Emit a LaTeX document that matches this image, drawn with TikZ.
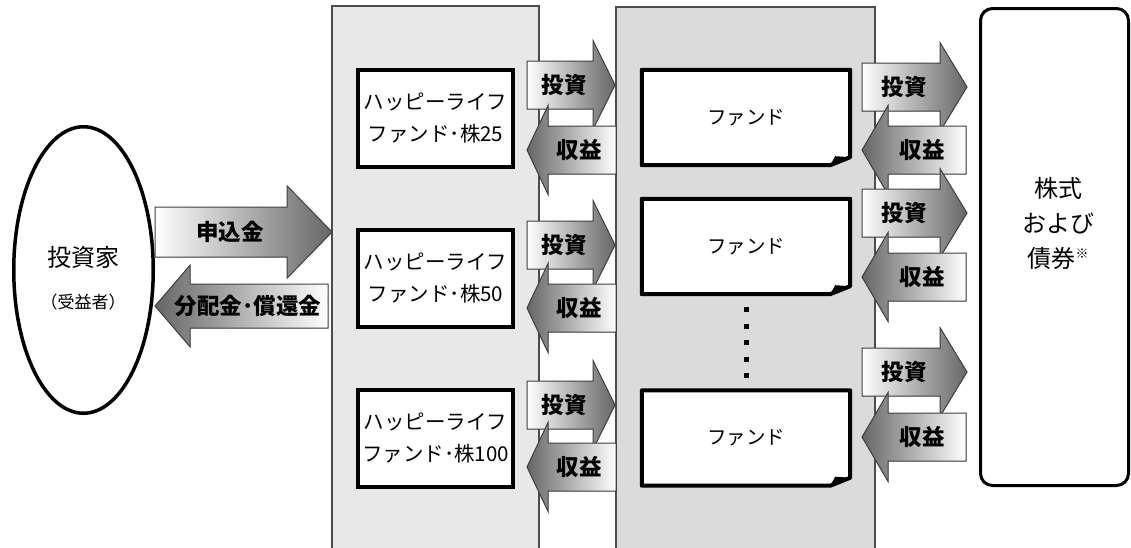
\documentclass[tikz,border=0pt]{standalone}
\usepackage{fontspec}
\setmainfont{Noto Sans CJK JP}
\usetikzlibrary{shapes.geometric}

\newcommand\flowarrow[9]{%
  \filldraw[flow,#2] (#3,#6-#7) -- (#4,#6-#7) -- (#4,{#6-1.85*#7}) -- (#5,#6)
    -- (#4,{#6+1.85*#7}) -- (#4,#6+#7) -- (#3,#6+#7) -- cycle;
  \node[flowlbl] (#1) at (#8,#6) {#9};}
\newcommand\fundbox[3]{%
  \node[fundframe] (#1) at (#2,#3) {};
  \filldraw[fundline] (#1.north west) -- (#1.north east) -- ([yshift=8pt]#1.south east)
    -- ([xshift=-20pt]#1.south east) -- (#1.south west) -- cycle;
  \fill ([xshift=-20pt]#1.south east) -- ([yshift=8pt]#1.south east) -- ([xshift=-15pt,yshift=9pt]#1.south east) -- cycle;
  \node[fundtxt] (#1t) at (#1) {ファンド};}

\begin{document}
\begin{tikzpicture}[x=1pt,y=-1pt,
    panelL/.style={draw=black!70, line width=1.2pt, fill=black!9},
    panelM/.style={draw=black!70, line width=1.2pt, fill=black!14},
    hlbox/.style={draw, line width=4pt, fill=white, minimum width=155pt, minimum height=97pt,
      align=center, inner sep=0pt, font=\fontsize{20.5}{32}\selectfont},
    fundframe/.style={minimum width=208pt, minimum height=95pt, inner sep=0pt},
    fundline/.style={draw, line width=4pt, fill=white, line join=round},
    fundtxt/.style={font=\fontsize{19.5}{24}\selectfont, inner sep=0pt},
    flow/.style={draw=black!75, line width=1pt},
    toR/.style={left color=white, right color=black!60},
    toL/.style={left color=black!60, right color=white},
    flowlbl/.style={font=\fontsize{22.5}{24}\selectfont\bfseries, inner sep=0pt},
    bigtxt/.style={font=\fontsize{24}{35}\selectfont, align=center, inner sep=0pt}]
  \clip (0,0) rectangle (1131,547);
  \fill[white] (0,0) rectangle (1131,547);

  \draw[panelL] (332,6) rectangle (539,560);
  \draw[panelM] (616,7) rectangle (875,560);

  \node[draw, ellipse, line width=3.5pt, minimum width=139.5pt, minimum height=286.5pt] (inv) at (83.5,270) {};
  \node[bigtxt] (invtxt) at (83,257) {投資家};
  \node[font=\fontsize{17}{17}\selectfont, inner sep=0pt] (benef) at (83,302) {（受益者）};

  \node[hlbox] (hl25) at (435.5,118.5) {ハッピーライフ\\ファンド･株25};
  \node[hlbox] (hl50) at (435.5,278) {ハッピーライフ\\ファンド･株50};
  \node[hlbox] (hl100) at (435.5,438) {ハッピーライフ\\ファンド･株100};

  \fundbox{fund1}{746}{117.5}
  \fundbox{fund2}{746}{246.5}
  \fundbox{fund3}{746}{438}
  \draw[line width=5pt, dash pattern=on 5pt off 11.5pt] ([yshift=-13pt]fund2.south) -- ([yshift=11pt]fund3.north);

  \node[draw, rounded corners=12pt, line width=3pt, minimum width=148pt, minimum height=477pt] (assets) at (1054.5,247) {};
  \node[bigtxt] (assetstxt) at (1058,223) {株式\\および\\債券{\fontsize{13}{13}\selectfont\raisebox{9pt}{※}}};

  \flowarrow{app}{toR}{155}{287}{332}{232}{25}{230}{申込金}
  \flowarrow{dist}{toL}{328}{190}{155}{306}{22}{248}{分配金･償還金}

  \flowarrow{inv1}{toR}{527}{593}{615}{85}{24}{564}{投資}
  \flowarrow{ret1}{toL}{616}{548}{527}{150}{24}{579}{収益}
  \flowarrow{inv2}{toR}{527}{593}{615}{245}{24}{564}{投資}
  \flowarrow{ret2}{toL}{616}{548}{527}{308}{24}{579}{収益}
  \flowarrow{inv3}{toR}{527}{593}{615}{405}{24}{564}{投資}
  \flowarrow{ret3}{toL}{616}{548}{527}{467}{24}{579}{収益}

  \flowarrow{buy1}{toR}{862}{940}{967}{87}{24}{904}{投資}
  \flowarrow{gain1}{toL}{966}{888}{862}{150}{24}{922}{収益}
  \flowarrow{buy2}{toR}{862}{940}{967}{213}{24}{904}{投資}
  \flowarrow{gain2}{toL}{966}{888}{862}{277}{24}{922}{収益}
  \flowarrow{buy3}{toR}{862}{940}{967}{372}{24}{904}{投資}
  \flowarrow{gain3}{toL}{966}{888}{862}{437}{24}{922}{収益}
\end{tikzpicture}
\end{document}
